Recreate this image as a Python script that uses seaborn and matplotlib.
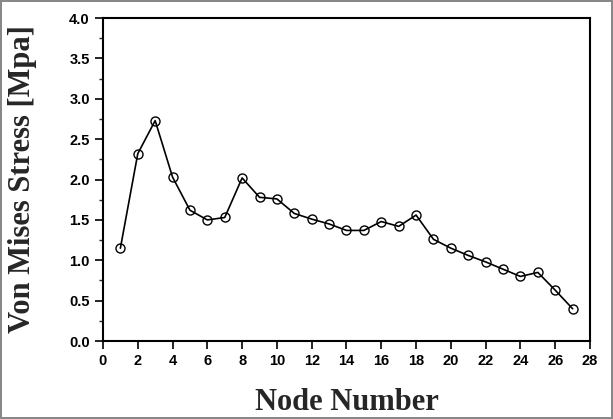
import matplotlib
matplotlib.use("Agg")
import matplotlib.pyplot as plt
import seaborn as sns
import pandas as pd
from matplotlib.ticker import MultipleLocator

nodes = list(range(1, 28))
stress = [1.15, 2.32, 2.73, 2.03, 1.62, 1.50, 1.53, 2.02, 1.78, 1.76,
          1.58, 1.51, 1.45, 1.37, 1.37, 1.48, 1.42, 1.56, 1.26, 1.15,
          1.06, 0.98, 0.89, 0.80, 0.85, 0.63, 0.40]
x_ticks = list(range(0, 29, 2))
y_ticks = [0.0, 0.5, 1.0, 1.5, 2.0, 2.5, 3.0, 3.5, 4.0]

sns.set_style("white")
plt.rcParams['font.family'] = ['Liberation Sans', 'DejaVu Sans']

df = pd.DataFrame({"Node": nodes, "Stress": stress})

fig = plt.figure(figsize=(6.13, 4.19), dpi=100)
fig.patch.set_edgecolor('#888888')
fig.patch.set_linewidth(1.5)
ax = fig.add_axes([0.168, 0.186, 0.7945, 0.771])

sns.lineplot(data=df, x="Node", y="Stress", ax=ax, color="black", linewidth=1.2,
             marker="o", markersize=6.5, markerfacecolor="none",
             markeredgecolor="black", markeredgewidth=1.0)

ax.set_xlim(0, 28)
ax.set_ylim(0, 4)
ax.set_xticks(x_ticks)
ax.set_yticks(y_ticks)
ax.set_yticklabels([f"{v:.1f}" for v in y_ticks])
ax.yaxis.set_minor_locator(MultipleLocator(0.25))
ax.tick_params(axis='both', which='major', direction='out', length=6, width=1.2,
               labelsize=10.5, colors='black', bottom=True, left=True)
ax.tick_params(axis='y', which='minor', direction='out', length=3, width=1, left=True)
for lab in ax.get_xticklabels() + ax.get_yticklabels():
    lab.set_fontweight('bold')

for s in ax.spines.values():
    s.set_visible(True)
    s.set_color('black')
    s.set_linewidth(1.5)

ax.set_xlabel("Node Number", fontsize=22, fontweight='bold',
              family=['Liberation Serif'], labelpad=14)
ax.set_ylabel("Von Mises Stress [Mpa]", fontsize=22, fontweight='bold',
              family=['Liberation Serif'], labelpad=8)
ax.yaxis.set_label_coords(-0.135, 0.5)

fig.savefig("out.png", dpi=100)
